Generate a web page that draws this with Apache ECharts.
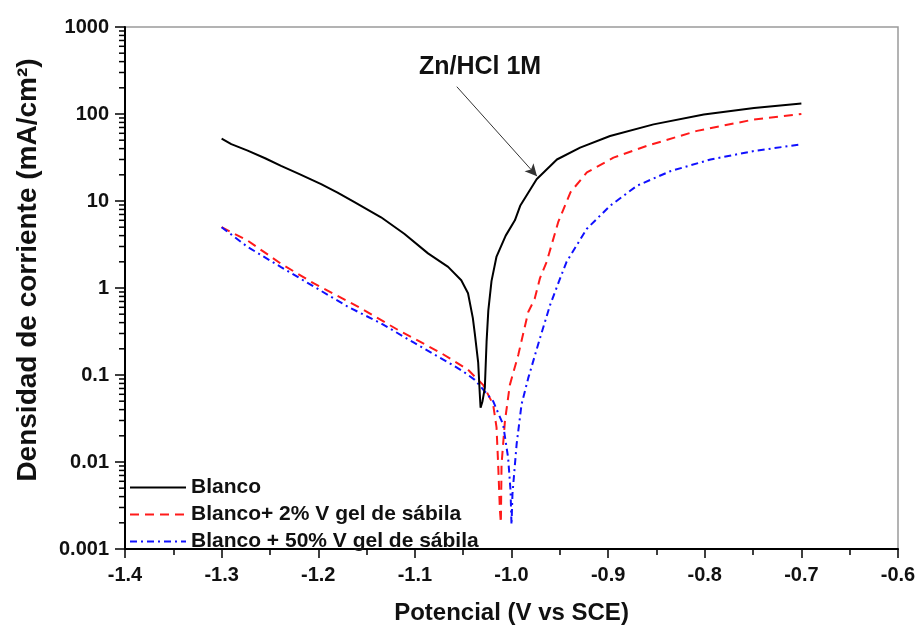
<!DOCTYPE html>
<html>
<head>
<meta charset="utf-8">
<script src="https://cdn.jsdelivr.net/npm/echarts@6/dist/echarts.min.js"></script>
<style>html,body{margin:0;padding:0;background:#fff}#c{width:920px;height:630px}</style>
</head>
<body>
<div id="c"></div>
<script>
// ---- data ----
const seriesNames = ['Blanco', 'Blanco+ 2% V gel de sábila', 'Blanco + 50% V gel de sábila'];

const blancoX = [-1.300,-1.290,-1.273,-1.255,-1.2385,-1.220,-1.197,-1.180,-1.1625,-1.135,-1.111,-1.0864,-1.0656,-1.052,-1.045,-1.040,-1.038,-1.0345,-1.0328,-1.032,-1.030,-1.0276,-1.0258,-1.024,-1.0207,-1.0155,-1.006,-0.9965,-0.991,-0.974,-0.953,-0.929,-0.898,-0.853,-0.801,-0.749,-0.700];
const blancoY = [52,45,38,31,25.3,20.5,15.6,12.5,9.7,6.5,4.2,2.5,1.75,1.23,0.87,0.45,0.30,0.14,0.06,0.042,0.05,0.071,0.24,0.55,1.2,2.3,4.0,6.0,8.8,17.8,30,41,55.8,76,98.6,117,132];

const gel2X = [-1.300,-1.273,-1.2385,-1.204,-1.159,-1.1175,-1.0726,-1.045,-1.0294,-1.019,-1.0155,-1.0138,-1.012,-1.011,-1.0103,-1.0068,-1.0017,-0.993,-0.9827,-0.976,-0.9705,-0.9636,-0.9517,-0.939,-0.922,-0.8945,-0.860,-0.808,-0.749,-0.700];
const gel2Y = [5.0,3.5,1.9,1.12,0.61,0.33,0.178,0.115,0.077,0.046,0.025,0.0094,0.0028,0.002,0.0094,0.0295,0.077,0.17,0.53,0.75,1.3,2.0,5.7,12.6,21.3,31.5,43,64,86.5,100];

const gel50X = [-1.300,-1.273,-1.2385,-1.204,-1.1694,-1.1347,-1.100,-1.075,-1.0656,-1.050,-1.038,-1.019,-1.0087,-1.0035,-1.001,-1.000,-0.999,-0.9947,-0.9896,-0.9827,-0.9705,-0.960,-0.9498,-0.943,-0.922,-0.898,-0.870,-0.8357,-0.794,-0.749,-0.700];
const gel50Y = [5.0,2.96,1.74,1.03,0.61,0.39,0.232,0.16,0.14,0.11,0.088,0.05,0.027,0.0112,0.0047,0.0019,0.0043,0.016,0.046,0.092,0.265,0.64,1.28,2.0,4.8,8.8,15,22,30,37.6,44.8];

const yTickLabels = ['0.001','0.01','0.1','1','10','100','1000'];
const xMin = -1.4, xMax = -0.6, xStep = 0.1;
const yMin = 0.001, yMax = 1000;

const annotationText = 'Zn/HCl 1M';
const arrowFrom = [-1.0566, 206];
const arrowTo = [-0.9736, 19.3];

// minor log ticks (axis decoration)
const yMinorTicks = [];
for (let k = -3; k <= 2; k++) for (let m = 2; m <= 9; m++) yMinorTicks.push(m * Math.pow(10, k));

const zip = (xs, ys) => xs.map((x, i) => [x, ys[i]]);
const FONT = "'Liberation Sans', Arial, sans-serif";

const chart = echarts.init(document.getElementById('c'), null, {renderer: 'canvas'});
chart.setOption({
  backgroundColor: '#fff',
  animation: false,
  grid: {left: 125, right: 22, top: 27, bottom: 78, show: true, borderColor: '#9a9a9a', borderWidth: 1.5, backgroundColor: 'transparent'},
  legend: {
    data: seriesNames, orient: 'vertical', left: 124, top: 472,
    itemWidth: 56, itemHeight: 14, itemGap: 6, selectedMode: false,
    itemStyle: {opacity: 0},
    textStyle: {fontFamily: FONT, fontWeight: 'bold', fontSize: 21, color: '#111'}
  },
  xAxis: {
    type: 'value', min: xMin, max: xMax, interval: xStep,
    name: 'Potencial (V vs SCE)', nameLocation: 'middle', nameGap: 52,
    nameTextStyle: {fontFamily: FONT, fontWeight: 'bold', fontSize: 24, color: '#111'},
    axisLine: {show: true, lineStyle: {color: '#000', width: 2}},
    axisTick: {show: true, inside: false, length: 9, lineStyle: {color: '#000', width: 1.5}},
    minorTick: {show: true, splitNumber: 2, length: 6, lineStyle: {color: '#000', width: 1.5}},
    splitLine: {show: false},
    axisLabel: {fontFamily: FONT, fontWeight: 'bold', fontSize: 20, color: '#111', margin: 16,
      formatter: v => Number(v).toFixed(1)}
  },
  yAxis: {
    type: 'log', logBase: 10, min: yMin, max: yMax, interval: 1, splitNumber: 6,
    axisLine: {show: true, lineStyle: {color: '#000', width: 2}},
    axisTick: {show: true, inside: false, length: 10, lineStyle: {color: '#000', width: 1.5}},
    minorTick: {show: false},
    splitLine: {show: false},
    axisLabel: {fontFamily: FONT, fontWeight: 'bold', fontSize: 20, color: '#111', margin: 16,
      formatter: v => yTickLabels[Math.round(Math.log10(v)) + 3]}
  },
  graphic: [
    {type: 'text', x: 28, y: 270, rotation: Math.PI / 2, z: 100,
      style: {text: 'Densidad de corriente (mA/cm²)', font: 'bold 28px ' + FONT, fill: '#111', align: 'center', verticalAlign: 'middle'}},
    {type: 'text', x: 480, y: 67, z: 100,
      style: {text: annotationText, font: 'bold 25px ' + FONT, fill: '#111', align: 'center', verticalAlign: 'middle'}}
  ],
  series: [
    {
      name: seriesNames[0], type: 'line', data: zip(blancoX, blancoY), symbol: 'none', smooth: false,
      lineStyle: {color: '#000', width: 2}, itemStyle: {color: '#000'}, z: 3,
      markLine: {
        silent: true, symbol: ['none', 'arrow'], symbolSize: [9, 12],
        lineStyle: {color: '#333', width: 1, type: 'solid'}, label: {show: false},
        data: [[{coord: arrowFrom}, {coord: arrowTo}]]
      }
    },
    {
      name: seriesNames[1], type: 'line', data: zip(gel2X, gel2Y), symbol: 'none', smooth: false,
      lineStyle: {color: '#ff1a1a', width: 2, type: [9, 6]}, itemStyle: {color: '#ff1a1a'}, z: 2
    },
    {
      name: seriesNames[2], type: 'line', data: zip(gel50X, gel50Y), symbol: 'none', smooth: false,
      lineStyle: {color: '#1010ff', width: 2, type: [7, 4, 2, 4]}, itemStyle: {color: '#1010ff'}, z: 2
    },
    {
      type: 'custom', name: 'minorTicks', silent: true, clip: false, z: 10,
      data: yMinorTicks.map(v => [xMin, v]),
      renderItem: (params, api) => {
        const p = api.coord([api.value(0), api.value(1)]);
        return {type: 'line', shape: {x1: p[0] - 6, y1: p[1], x2: p[0], y2: p[1]},
          style: {stroke: '#000', lineWidth: 1.5}};
      }
    }
  ]
});
</script>
</body>
</html>
